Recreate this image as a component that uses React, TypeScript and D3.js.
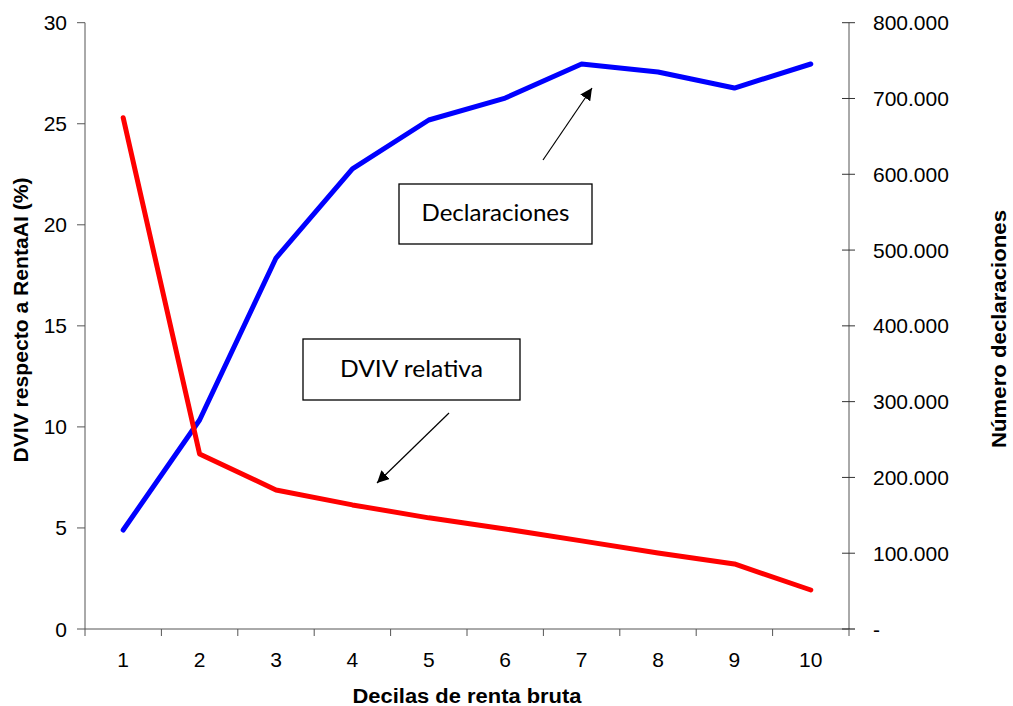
import React from "react";
import * as d3 from "d3";

const deciles = ["1", "2", "3", "4", "5", "6", "7", "8", "9", "10"];
const dvivRelativa = [25.3, 8.66, 6.88, 6.14, 5.5, 4.95, 4.36, 3.76, 3.22, 1.93];
const declaraciones = [130600, 275800, 489500, 607000, 671600, 700600, 745500, 735000, 713800, 745500];
const leftTicks = [0, 5, 10, 15, 20, 25, 30];
const rightTicks = [0, 100000, 200000, 300000, 400000, 500000, 600000, 700000, 800000];

const W = 1013, H = 706;
const left = 85, right = 849, top = 22.7, bottom = 629;
const font = "'Liberation Sans', Arial, sans-serif";
const boxFont = "Lato, 'Open Sans', sans-serif";
const tickSize = 21;

export default function App() {
  const x = d3.scaleBand<string>().domain(deciles).range([left, right]);
  const yL = d3.scaleLinear().domain([0, 30]).range([bottom, top]);
  const yR = d3.scaleLinear().domain([0, 800000]).range([bottom, top]);
  const cx = (d: string) => (x(d) as number) + x.bandwidth() / 2;
  const redLine = d3.line<number>().x((_, i) => cx(deciles[i])).y((v) => yL(v))(dvivRelativa) as string;
  const blueLine = d3.line<number>().x((_, i) => cx(deciles[i])).y((v) => yR(v))(declaraciones) as string;
  const fmt = (v: number) => (v === 0 ? "-" : d3.format(",")(v).replace(/,/g, "."));
  const boundaries = [...deciles.map((d) => x(d) as number), right];
  const axisColor = "#555";

  return (
    <svg width={W} height={H} style={{ position: "absolute", left: 0, top: 0 }} fontFamily={font}>
      <defs>
        <marker id="ah" viewBox="0 0 10 10" refX="10" refY="5" markerWidth="12" markerHeight="12" markerUnits="userSpaceOnUse" orient="auto">
          <path d="M0,0 L10,5 L0,10 z" fill="#000" />
        </marker>
      </defs>
      <rect width={W} height={H} fill="#fff" />
      {/* left axis */}
      <line x1={left} x2={left} y1={top} y2={bottom} stroke={axisColor} strokeWidth={1} />
      {leftTicks.map((t) => (
        <g key={"l" + t}>
          <line x1={left - 8} x2={left} y1={yL(t)} y2={yL(t)} stroke={axisColor} />
          <text x={67} y={yL(t) + 7.5} textAnchor="end" fontSize={tickSize}>{t}</text>
        </g>
      ))}
      {/* right axis */}
      <line x1={right} x2={right} y1={top} y2={bottom} stroke={axisColor} strokeWidth={1} />
      {rightTicks.map((t) => (
        <g key={"r" + t}>
          <line x1={right - 7} x2={right + 6} y1={yR(t)} y2={yR(t)} stroke={t === 0 ? "#000" : "#333"} />
          <text x={873} y={yR(t) + 7.5} textAnchor="start" fontSize={tickSize}>{fmt(t)}</text>
        </g>
      ))}
      {/* x axis */}
      <line x1={left} x2={right} y1={bottom} y2={bottom} stroke={axisColor} />
      {boundaries.map((b, i) => (
        <line key={"b" + i} x1={b} x2={b} y1={bottom} y2={bottom + 7} stroke={axisColor} />
      ))}
      {deciles.map((d) => (
        <text key={"x" + d} x={cx(d)} y={667} textAnchor="middle" fontSize={tickSize}>{d}</text>
      ))}
      {/* axis titles */}
      <text x={467} y={703} textAnchor="middle" fontSize={20} fontWeight="bold" textLength={229} lengthAdjust="spacingAndGlyphs">Decilas de renta bruta</text>
      <text transform={`translate(28,320) rotate(-90)`} textAnchor="middle" fontSize={20} fontWeight="bold" textLength={285} lengthAdjust="spacingAndGlyphs">DVIV respecto a RentaAI (%)</text>
      <text transform={`translate(1006,329) rotate(-90)`} textAnchor="middle" fontSize={20} fontWeight="bold" textLength={238} lengthAdjust="spacingAndGlyphs">Número declaraciones</text>
      {/* series */}
      <path d={blueLine} fill="none" stroke="#0000ff" strokeWidth={5} strokeLinejoin="round" strokeLinecap="round" />
      <path d={redLine} fill="none" stroke="#ff0000" strokeWidth={5} strokeLinejoin="round" strokeLinecap="round" />
      {/* annotations */}
      <rect x={399} y={184} width={193} height={60} fill="#fff" stroke="#000" strokeWidth={1.3} />
      <text x={495.5} y={221} textAnchor="middle" fontSize={24} fontFamily={boxFont} textLength={148} lengthAdjust="spacingAndGlyphs">Declaraciones</text>
      <line x1={543} y1={160} x2={592} y2={88} stroke="#000" strokeWidth={1.2} markerEnd="url(#ah)" />
      <rect x={303} y={339} width={217} height={61} fill="#fff" stroke="#000" strokeWidth={1.3} />
      <text x={411.5} y={377} textAnchor="middle" fontSize={24} fontFamily={boxFont} textLength={143} lengthAdjust="spacingAndGlyphs">DVIV relativa</text>
      <line x1={449} y1={413} x2={377} y2={483} stroke="#000" strokeWidth={1.2} markerEnd="url(#ah)" />
    </svg>
  );
}
